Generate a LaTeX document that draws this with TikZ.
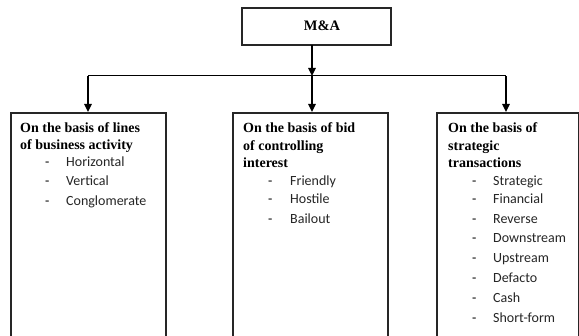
\documentclass[tikz,border=0pt]{standalone}
\usepackage{fontspec}
\setmainfont{Liberation Serif}
\newfontfamily\itemfont{Carlito}
\usetikzlibrary{arrows.meta}
\begin{document}
\begin{tikzpicture}[x=1pt,y=-1pt,
  boxline/.style={draw=black!85,line width=1.1pt},
  conn/.style={draw=black,line width=1.4pt},
  arr/.style={conn,-{Triangle[width=7.5pt,length=8pt]}},
  head/.style={anchor=base west,inner sep=0pt,font=\bfseries\fontsize{14}{17}\selectfont},
  dashmark/.style={anchor=base west,inner sep=0pt,font=\itemfont\fontsize{14}{16}\selectfont},
  item/.style={anchor=base west,inner sep=0pt,font=\itemfont\fontsize{14}{16}\selectfont,text=black!85}]
\useasboundingbox (0,0) rectangle (579,336);
\clip (0,0) rectangle (579,336);
\fill[white] (0,0) rectangle (579,336);
% boxes
\draw[boxline] (242,8) rectangle (391,45);
\node[inner sep=0pt,font=\bfseries\fontsize{14.5}{16}\selectfont] (ma) at (322,26) {M\&A};
\coordinate (mab) at (312,45);
\draw[boxline] (11,113) rectangle (166,345);
\draw[boxline] (233,113) rectangle (388,345);
\draw[boxline] (437,113) rectangle (578.5,345);
\coordinate (ltop) at (88,112);
\coordinate (mtop) at (312,112);
\coordinate (rtop) at (506,112);
\coordinate (hl) at (88,76);
\coordinate (hm) at (312,76);
\coordinate (hr) at (506,76);
% connectors
\draw[draw=black,line width=1pt] (hl) -- (hr);
\draw[arr] (mab) -- (hm);
\draw[arr] (hm) -- (mtop);
\draw[arr] (hl) -- (ltop);
\draw[arr] (hr) -- (rtop);
% left
\node[head] (l1) at (20,133) {On the basis of lines};
\node[head] (l2) at (20,150) {of business activity};
\node[dashmark] (ld1) at (45,167) {-};
\node[item] (li1) at (66,167) {Horizontal};
\node[dashmark] (ld2) at (45,186) {-};
\node[item] (li2) at (66,186) {Vertical};
\node[dashmark] (ld3) at (45,206) {-};
\node[item] (li3) at (66,206) {Conglomerate};
% middle
\node[head] (m1) at (243,133) {On the basis of bid};
\node[head] (m2) at (243,150.5) {of controlling};
\node[head] (m3) at (243,168) {interest};
\node[dashmark] (md1) at (268,186) {-};
\node[item] (mi1) at (290,186) {Friendly};
\node[dashmark] (md2) at (268,204) {-};
\node[item] (mi2) at (290,204) {Hostile};
\node[dashmark] (md3) at (268,224) {-};
\node[item] (mi3) at (290,224) {Bailout};
% right
\node[head] (r1) at (448,133) {On the basis of};
\node[head] (r2) at (448,150.5) {strategic};
\node[head] (r3) at (448,168) {transactions};
\node[dashmark] (rd1) at (472,186) {-};
\node[item] (ri1) at (493,186) {Strategic};
\node[dashmark] (rd2) at (472,204) {-};
\node[item] (ri2) at (493,204) {Financial};
\node[dashmark] (rd3) at (472,224) {-};
\node[item] (ri3) at (493,224) {Reverse};
\node[dashmark] (rd4) at (472,243) {-};
\node[item] (ri4) at (493,243) {Downstream};
\node[dashmark] (rd5) at (472,263) {-};
\node[item] (ri5) at (493,263) {Upstream};
\node[dashmark] (rd6) at (472,283) {-};
\node[item] (ri6) at (493,283) {Defacto};
\node[dashmark] (rd7) at (472,303) {-};
\node[item] (ri7) at (493,303) {Cash};
\node[dashmark] (rd8) at (472,323) {-};
\node[item] (ri8) at (493,323) {Short-form};
\end{tikzpicture}
\end{document}
